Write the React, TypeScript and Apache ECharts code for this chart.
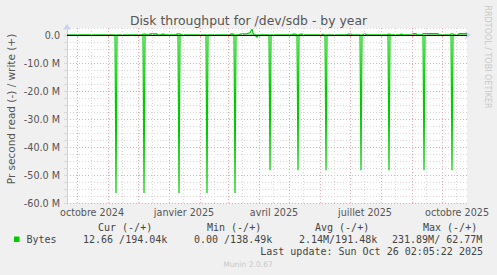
import React, { useEffect, useRef } from 'react';
import * as echarts from 'echarts';

const startDate = '2024-09-21';
const endDate = '2025-10-26';

// Read (drawn negative), values in M bytes/s
const readPoints: [string, number][] = [
  ['2024-09-21', 0],
  ['2024-11-08', 0], ['2024-11-09', -56.4], ['2024-11-10', 0],
  ['2024-12-06', 0], ['2024-12-07', -56.4], ['2024-12-08', 0],
  ['2025-01-10', 0], ['2025-01-11', -56.4], ['2025-01-12', 0],
  ['2025-02-07', 0], ['2025-02-08', -56.4], ['2025-02-09', 0],
  ['2025-03-07', 0], ['2025-03-08', -56.4], ['2025-03-09', 0],
  ['2025-03-28', 0], ['2025-03-30', -0.8], ['2025-03-31', 0],
  ['2025-04-11', 0], ['2025-04-12', -48.3], ['2025-04-13', 0],
  ['2025-05-09', 0], ['2025-05-10', -48.3], ['2025-05-11', 0],
  ['2025-06-06', 0], ['2025-06-07', -48.3], ['2025-06-08', 0],
  ['2025-07-11', 0], ['2025-07-12', -48.3], ['2025-07-13', 0],
  ['2025-08-08', 0], ['2025-08-09', -48.3], ['2025-08-10', 0],
  ['2025-09-12', 0], ['2025-09-13', -48.3], ['2025-09-14', 0],
  ['2025-10-10', 0], ['2025-10-11', -48.3], ['2025-10-12', 0],
  ['2025-10-26', 0],
];

// Write (drawn positive), values in M bytes/s
const writePoints: [string, number][] = [
  ['2024-09-21', 0],
  ['2024-12-05', 0], ['2024-12-06', 0.3], ['2024-12-09', 0.3], ['2024-12-10', 0],
  ['2024-12-12', 0], ['2024-12-13', 0.4], ['2024-12-20', 0.4], ['2024-12-21', 0],
  ['2024-12-24', 0], ['2024-12-25', 0.3], ['2024-12-27', 0.3], ['2024-12-28', 0],
  ['2025-01-08', 0], ['2025-01-09', 0.4], ['2025-01-12', 0.4], ['2025-01-13', 0],
  ['2025-03-03', 0], ['2025-03-04', 0.4], ['2025-03-06', 0.4], ['2025-03-07', 0],
  ['2025-03-12', 0], ['2025-03-13', 0.3], ['2025-03-20', 0.5], ['2025-03-23', 0.8],
  ['2025-03-25', 2.1], ['2025-03-26', 0.7], ['2025-03-27', 0],
  ['2025-05-04', 0], ['2025-05-05', 0.3], ['2025-05-08', 0.3], ['2025-05-09', 0],
  ['2025-05-11', 0], ['2025-05-12', 0.3], ['2025-05-15', 0.3], ['2025-05-16', 0],
  ['2025-06-03', 0], ['2025-06-04', 0.3], ['2025-06-05', 0],
  ['2025-06-28', 0], ['2025-06-29', 0.3], ['2025-07-02', 0.3], ['2025-07-03', 0],
  ['2025-07-14', 0], ['2025-07-15', 0.3], ['2025-07-17', 0.3], ['2025-07-18', 0],
  ['2025-08-07', 0], ['2025-08-08', 0.3], ['2025-08-10', 0.3], ['2025-08-11', 0],
  ['2025-08-20', 0], ['2025-08-21', 0.3], ['2025-08-22', 0.3], ['2025-08-23', 0],
  ['2025-09-01', 0], ['2025-09-02', 0.5], ['2025-09-05', 0.5], ['2025-09-06', 0],
  ['2025-09-11', 0], ['2025-09-12', 0.5], ['2025-09-27', 0.5], ['2025-09-28', 0],
  ['2025-10-09', 0], ['2025-10-10', 0.4], ['2025-10-12', 0.4], ['2025-10-13', 0],
  ['2025-10-17', 0], ['2025-10-18', 0.5], ['2025-10-26', 0.5],
];

const xLabelDates = ['2024-10-16', '2025-01-16', '2025-04-16', '2025-07-16', '2025-10-16'];
const xLabels = ['octobre 2024', 'janvier 2025', 'avril 2025', 'juillet 2025', 'octobre 2025'];

const monthStarts = [
  '2024-10-01', '2024-11-01', '2024-12-01', '2025-01-01', '2025-02-01', '2025-03-01', '2025-04-01',
  '2025-05-01', '2025-06-01', '2025-07-01', '2025-08-01', '2025-09-01', '2025-10-01',
];
const midMonths = [
  '2024-10-15', '2024-11-15', '2024-12-15', '2025-01-15', '2025-02-15', '2025-03-15', '2025-04-15',
  '2025-05-15', '2025-06-15', '2025-07-15', '2025-08-15', '2025-09-15', '2025-10-15',
];

const legendHeaders = ['Cur (-/+)', 'Min (-/+)', 'Avg (-/+)', 'Max (-/+)'];
const legendValues = ['12.66 /194.04k', '0.00 /138.49k', '2.14M/191.48k', '231.89M/ 62.77M'];
const seriesName = 'Bytes';
const lastUpdate = 'Last update: Sun Oct 26 02:05:22 2025';

const ts = (s: string) => new Date(s + 'T00:00:00').getTime();

const GREEN = '#00cc00';
const MAJOR = '#f2a6a6';
const MINOR = '#d9d9d9';
const AXIS = '#c9cff5';
const MONO = '"DejaVu Sans Mono", monospace';
const SANS = '"DejaVu Sans", sans-serif';

export default function App() {
  const ref = useRef<HTMLDivElement>(null);
  useEffect(() => {
    if (!ref.current) return;
    const chart = echarts.init(ref.current, undefined, { renderer: 'svg' });
    const headerX = [98, 207, 315, 423];
    const valueX = [83, 194, 299, 392];
    const option: any = {
      animation: false,
      backgroundColor: '#f0f0f0',
      grid: { left: 67, right: 30, top: 28, bottom: 72, show: true, backgroundColor: '#ffffff', borderWidth: 0 },
      xAxis: {
        type: 'value',
        min: ts(startDate),
        max: ts(endDate),
        axisLine: { show: true, lineStyle: { color: AXIS, width: 1 }, symbol: ['none', 'arrow'], symbolSize: [6, 6], symbolOffset: [0, 4] },
        axisTick: { show: true, customValues: monthStarts.map(ts), length: 3, lineStyle: { color: MAJOR } },
        axisLabel: {
          customValues: xLabelDates.map(ts),
          formatter: (v: number) => {
            const i = xLabelDates.findIndex((d) => Math.abs(ts(d) - v) < 43200000);
            return i >= 0 ? xLabels[i] : '';
          },
          color: '#555',
          fontSize: 9.6,
          fontFamily: SANS,
          margin: 4,
        },
        splitLine: { show: false },
      },
      yAxis: {
        type: 'value',
        min: -60,
        max: 2.5,
        interval: 2.5,
        axisLine: { show: true, lineStyle: { color: AXIS, width: 1 }, symbol: ['none', 'arrow'], symbolSize: [6, 6], symbolOffset: [0, 4] },
        axisTick: { show: true, length: 3, lineStyle: { color: MINOR } },
        axisLabel: {
          formatter: (v: number) => {
            if (Math.abs(v % 10) > 1e-6) return '';
            return v === 0 ? '0.0' : v.toFixed(1) + ' M';
          },
          color: '#555',
          fontSize: 9.6,
          fontFamily: SANS,
          margin: 7,
        },
        splitLine: { show: true, lineStyle: { color: [MAJOR, MINOR, MINOR, MINOR], type: [1, 2], width: 1 } },
      },
      series: [
        {
          type: 'line',
          z: 1,
          silent: true,
          data: [[ts(startDate), 0]],
          showSymbol: false,
          lineStyle: { opacity: 0 },
          markLine: {
            silent: true,
            symbol: ['none', 'none'],
            label: { show: false },
            animation: false,
            data: [
              ...midMonths.map((d) => ({ xAxis: ts(d), lineStyle: { color: MINOR, type: [1, 2], width: 1 } })),
              ...monthStarts.map((d) => ({ xAxis: ts(d), lineStyle: { color: MAJOR, type: [1, 2], width: 1 } })),
            ],
          },
        },
        {
          name: 'read',
          type: 'line',
          z: 2,
          data: readPoints.map(([d, v]) => [ts(d), v]),
          showSymbol: false,
          lineStyle: { color: GREEN, width: 1.2 },
          itemStyle: { color: GREEN },
        },
        {
          name: 'write',
          type: 'line',
          z: 2,
          data: writePoints.map(([d, v]) => [ts(d), v]),
          showSymbol: false,
          lineStyle: { color: GREEN, width: 1.2 },
          itemStyle: { color: GREEN },
        },
        {
          type: 'line',
          z: 3,
          silent: true,
          data: [[ts(startDate), 0]],
          showSymbol: false,
          lineStyle: { opacity: 0 },
          markLine: {
            silent: true,
            symbol: ['none', 'none'],
            label: { show: false },
            data: [{ yAxis: 0, lineStyle: { color: '#000', type: 'solid', width: 1 } }],
          },
        },
      ],
      graphic: [
        {
          type: 'text', x: 248.5, y: 20,
          style: { text: 'Disk throughput for /dev/sdb - by year', align: 'center', verticalAlign: 'middle', fontSize: 12.4, fontFamily: SANS, fill: '#555' },
        },
        {
          type: 'text', x: 10.5, y: 109, rotation: Math.PI / 2,
          style: { text: 'Pr second read (-) / write (+)', align: 'center', verticalAlign: 'middle', fontSize: 10.5, fontFamily: SANS, fill: '#555' },
        },
        {
          type: 'text', x: 487.5, y: 57, rotation: -Math.PI / 2,
          style: { text: 'RRDTOOL / TOBI OETIKER', align: 'center', verticalAlign: 'middle', fontSize: 8, fontFamily: SANS, fill: '#c8c8c8' },
        },
        ...legendHeaders.map((t, i) => ({
          type: 'text', x: headerX[i], y: 227.5,
          style: { text: t, align: 'left', verticalAlign: 'middle', fontSize: 10, fontFamily: MONO, fill: '#444' },
        })),
        { type: 'rect', shape: { x: 14, y: 236.5, width: 5.5, height: 5.5 }, style: { fill: GREEN } },
        {
          type: 'text', x: 26.5, y: 239.5,
          style: { text: seriesName, align: 'left', verticalAlign: 'middle', fontSize: 10, fontFamily: MONO, fill: '#444' },
        },
        ...legendValues.map((t, i) => ({
          type: 'text', x: valueX[i], y: 239.5,
          style: { text: t, align: 'left', verticalAlign: 'middle', fontSize: 10, fontFamily: MONO, fill: '#444' },
        })),
        {
          type: 'text', x: 483, y: 251.5,
          style: { text: lastUpdate, align: 'right', verticalAlign: 'middle', fontSize: 10, fontFamily: MONO, fill: '#444' },
        },
        {
          type: 'text', x: 248, y: 264,
          style: { text: 'Munin 2.0.67', align: 'center', verticalAlign: 'middle', fontSize: 7.6, fontFamily: SANS, fill: '#c8c8c8' },
        },
      ],
    };
    chart.setOption(option);
    return () => chart.dispose();
  }, []);
  return (
    <div
      ref={ref}
      style={{ position: 'fixed', left: 0, top: 0, width: 497, height: 275, background: '#f0f0f0' }}
    />
  );
}
